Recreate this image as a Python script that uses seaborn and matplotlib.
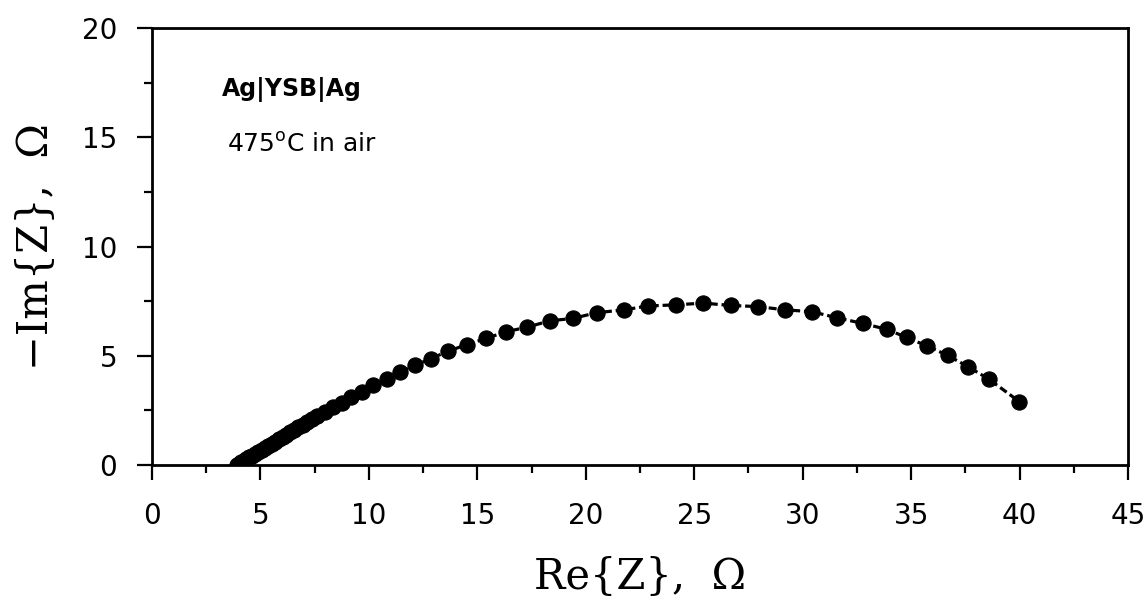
import numpy as np
import pandas as pd
import matplotlib
matplotlib.use("Agg")
import matplotlib.pyplot as plt
from matplotlib.ticker import MultipleLocator
import seaborn as sns

# Data (Nyquist plot)
re_z = [3.90, 4.00, 4.10, 4.22, 4.35, 4.48, 4.62, 4.76, 4.90, 5.05, 5.20, 5.36,
        5.52, 5.68, 5.85, 6.02, 6.20, 6.38, 6.56, 6.75, 6.95, 7.15, 7.37, 7.60,
        7.98, 8.36, 8.74, 9.17, 9.67, 10.20, 10.82, 11.43, 12.13, 12.86, 13.66,
        14.51, 15.40, 16.32, 17.27, 18.35, 19.42, 20.50, 21.76, 22.88, 24.16,
        25.42, 26.69, 27.95, 29.18, 30.41, 31.57, 32.77, 33.87, 34.79, 35.75,
        36.68, 37.64, 38.60, 39.99]
neg_im_z = [0.00, 0.06, 0.12, 0.19, 0.27, 0.35, 0.43, 0.52, 0.60, 0.69, 0.78, 0.88,
            0.98, 1.07, 1.17, 1.28, 1.39, 1.50, 1.61, 1.73, 1.85, 1.97, 2.11, 2.25,
            2.41, 2.64, 2.83, 3.10, 3.33, 3.64, 3.95, 4.25, 4.56, 4.87, 5.21,
            5.51, 5.79, 6.10, 6.30, 6.60, 6.71, 6.97, 7.10, 7.28, 7.33,
            7.41, 7.30, 7.25, 7.10, 7.02, 6.74, 6.48, 6.21, 5.84, 5.44,
            5.02, 4.49, 3.92, 2.90]

x_ticks = [0, 5, 10, 15, 20, 25, 30, 35, 40, 45]
y_ticks = [0, 5, 10, 15, 20]
x_label = "Re{Z},  \u03a9"
y_label = "\u2212Im{Z},  \u03a9"
note1 = "Ag|YSB|Ag"
note2 = "475$^{\\mathregular{o}}$C in air"

df = pd.DataFrame({"re": re_z, "im": neg_im_z})

sns.set_theme(style="ticks")
plt.rcParams["font.family"] = ["DejaVu Sans"]

fig = plt.figure(figsize=(11.48, 5.96), dpi=100)
ax = fig.add_axes([152 / 1148, 1 - 465 / 596, (1128 - 152) / 1148, (465 - 28) / 596])

sns.lineplot(data=df, x="re", y="im", sort=False, ax=ax, color="black",
             linestyle=(0, (2.5, 1.2)), linewidth=2.3, marker="o", markersize=11,
             markeredgecolor="black", markerfacecolor="black")

ax.set_xlim(0, 45)
ax.set_ylim(0, 20)
ax.set_xticks(x_ticks)
ax.set_yticks(y_ticks)
ax.xaxis.set_minor_locator(MultipleLocator(2.5))
ax.yaxis.set_minor_locator(MultipleLocator(2.5))
ax.tick_params(which="major", direction="out", length=11, width=1.6,
               labelsize=20, color="black", labelcolor="black")
ax.tick_params(axis="x", which="major", pad=16)
ax.tick_params(axis="y", which="major", pad=14)
ax.tick_params(which="minor", direction="out", length=5.5, width=1.6, color="black")
ax.tick_params(top=False, right=False, which="both")
for s in ax.spines.values():
    s.set_visible(True)
    s.set_linewidth(2.0)
    s.set_color("black")

ax.set_xlabel(x_label, fontsize=30, family="DejaVu Serif", color="black", labelpad=18)
ax.set_ylabel(y_label, fontsize=30, family="DejaVu Serif", color="black", labelpad=18)

ax.text(3.2, 16.9, note1, fontsize=17, fontweight="bold", color="black")
ax.text(3.45, 14.35, note2, fontsize=18, color="black")

fig.savefig("out.png", dpi=100, facecolor="white")
